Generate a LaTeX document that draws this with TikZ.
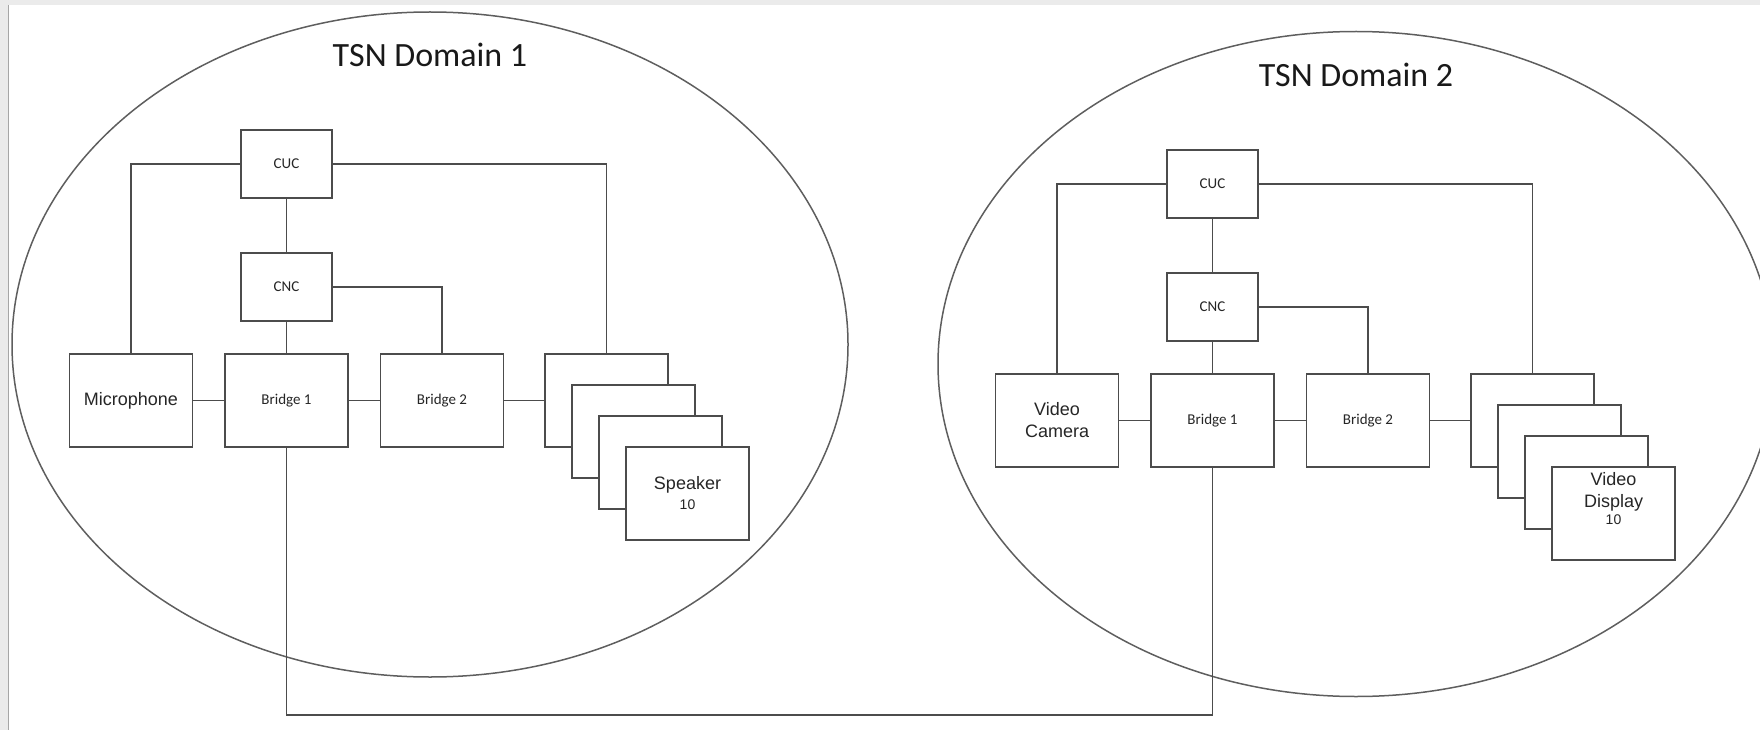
\documentclass[tikz,border=0pt]{standalone}
\usepackage{fontspec}
\setmainfont{Carlito}
\newfontfamily\arialfont{Liberation Sans}
\usetikzlibrary{positioning}

\definecolor{boxgray}{HTML}{4C4C4C}
\definecolor{rimgray}{HTML}{5E5E5E}
\definecolor{framegray}{HTML}{EBEBEB}

\tikzset{
    box/.style={draw=boxgray, line width=1.6pt, fill=white, minimum width=123pt, minimum height=93pt, inner sep=0pt, align=center, font=\fontsize{15}{18}\selectfont, text=black!85},
    ctrl/.style={box, minimum width=91pt, minimum height=68pt},
    devtext/.style={font=\arialfont\fontsize{18}{22}\selectfont},
    wire/.style={draw=boxgray, line width=1.6pt},
    rim/.style={draw=rimgray, line width=1.5pt},
    domtitle/.style={font=\fontsize{34}{40}\selectfont, anchor=base, text=black!90}
}

\begin{document}
\begin{tikzpicture}[x=1pt, y=-1pt]
    \useasboundingbox (0,0) rectangle (1760,730);
    % screenshot frame
    \fill[framegray] (0,0) rectangle (1760,5);
    \fill[framegray] (0,0) rectangle (8,730);
    \draw[black!35, line width=1pt] (8.5,5) -- (8.5,730);

    % Domains
    \draw[rim] (430,344.5) ellipse [x radius=418, y radius=332.5];
    \node[domtitle] (titleA) at (430,67) {TSN Domain 1};
    \draw[rim] (1356,364) ellipse [x radius=418, y radius=332.5];
    \node[domtitle] (titleB) at (1356,87) {TSN Domain 2};

    % Domain 1
    \node[ctrl] (cucA) at (286.5,164) {CUC};
    \node[ctrl] (cncA) at (286.5,287) {CNC};
    \node[box, devtext] (micA) at (131,400.5) {Microphone};
    \node[box] (brA1) at (286.5,400.5) {Bridge 1};
    \node[box] (brA2) at (442,400.5) {Bridge 2};
    \foreach \i in {1,2,3}
        \node[box] (spkA\i) at ({606.5+27*(\i-1)}, {400.5+31*(\i-1)}) {};
    \node[box, devtext] (spkA4) at (687.5,493.5) {Speaker\\[-2pt]{\fontsize{14}{16}\selectfont 10}};

    \draw[wire] (cucA) -- (cncA);
    \draw[wire] (cncA) -- (brA1);
    \draw[wire] (micA) -- (brA1);
    \draw[wire] (brA1) -- (brA2);
    \draw[wire] (brA2) -- (spkA1);
    \draw[wire] (cucA.west) -| (micA.north);
    \draw[wire] (cucA.east) -| (spkA1.north);
    \draw[wire] (cncA.east) -| (brA2.north);

    % Domain 2
    \begin{scope}[shift={(926,20)}]
        \node[ctrl] (cucB) at (286.5,164) {CUC};
        \node[ctrl] (cncB) at (286.5,287) {CNC};
        \node[box, devtext] (camB) at (131,400.5) {Video\\Camera};
        \node[box] (brB1) at (286.5,400.5) {Bridge 1};
        \node[box] (brB2) at (442,400.5) {Bridge 2};
        \foreach \i in {1,2,3}
            \node[box] (dspB\i) at ({606.5+27*(\i-1)}, {400.5+31*(\i-1)}) {};
        \node[box, devtext] (dspB4) at (687.5,493.5) {Video\\Display\\[-5pt]{\fontsize{14}{16}\selectfont 10}\\[8pt]};
    \end{scope}

    \draw[wire] (cucB) -- (cncB);
    \draw[wire] (cncB) -- (brB1);
    \draw[wire] (camB) -- (brB1);
    \draw[wire] (brB1) -- (brB2);
    \draw[wire] (brB2) -- (dspB1);
    \draw[wire] (cucB.west) -| (camB.north);
    \draw[wire] (cucB.east) -| (dspB1.north);
    \draw[wire] (cncB.east) -| (brB2.north);

    % link between the domains
    \coordinate (low) at (0,715);
    \draw[wire] (brA1.south) -- (brA1.south |- low) -| (brB1.south);
\end{tikzpicture}
\end{document}
